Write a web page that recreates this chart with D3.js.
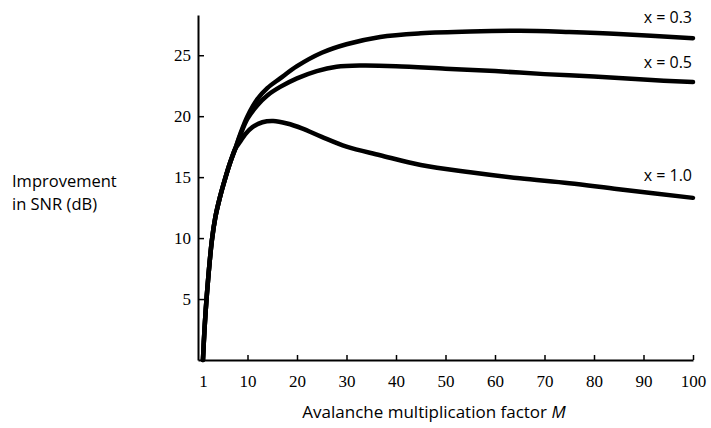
<!DOCTYPE html>
<html>
<head>
<meta charset="utf-8">
<script src="https://cdn.jsdelivr.net/npm/d3@7/dist/d3.min.js"></script>
<style>
  html, body { margin: 0; padding: 0; background: #fff; }
  svg { display: block; }
</style>
</head>
<body>
<svg id="chart" width="711" height="428"></svg>
<script>
// ---- Data ----
const xTickValues = [1, 10, 20, 30, 40, 50, 60, 70, 80, 90, 100];
const yTickValues = [5, 10, 15, 20, 25];

// Common rising part of all three curves (M, dB)
const sharedM  = [1, 1.3, 1.8, 2.8, 3.5, 4.4, 5.5, 6.5, 7.5];
const sharedDB = [0, 2.4, 5.4, 9.8, 11.7, 13.3, 14.9, 16.2, 17.3];

const x03M  = [8.5, 10, 12, 14, 16.6, 20, 25, 30, 36.8, 45, 55, 65, 75, 85, 100];
const x03DB = [18.5, 20.0, 21.4, 22.3, 23.1, 24.1, 25.2, 25.9, 26.5, 26.8, 26.95, 27.0, 26.9, 26.75, 26.4];

const x05M  = [8.5, 10, 12, 14, 16.6, 20, 24, 28, 33, 40, 50, 60, 70, 80, 90, 100];
const x05DB = [18.4, 19.8, 20.9, 21.7, 22.4, 23.1, 23.7, 24.05, 24.15, 24.1, 23.9, 23.7, 23.45, 23.25, 23.0, 22.8];

const x10M  = [8.5, 9.5, 11, 13, 15.2, 18, 21, 25, 30, 36.8, 45, 55, 65, 75, 85, 100];
const x10DB = [17.9, 18.5, 19.1, 19.5, 19.6, 19.4, 19.0, 18.3, 17.5, 16.8, 16.0, 15.4, 14.9, 14.5, 14.0, 13.3];

const seriesNames = ["x = 0.3", "x = 0.5", "x = 1.0"];

function build(m, db) {
  const pts = sharedM.map((v, i) => [v, sharedDB[i]]);
  return pts.concat(m.map((v, i) => [v, db[i]]));
}
const series = [
  { name: seriesNames[0], pts: build(x03M, x03DB) },
  { name: seriesNames[1], pts: build(x05M, x05DB) },
  { name: seriesNames[2], pts: build(x10M, x10DB) }
];

// ---- Layout ----
const svg = d3.select("#chart");
const x = d3.scaleLinear().domain([0, 100]).range([198, 693]);
const y = d3.scaleLinear().domain([0, 28.3]).range([360, 15]);

const tickFont = "'Liberation Serif', 'Times New Roman', serif";
const textFont = "'Open Sans', 'DejaVu Sans', sans-serif";

// X axis
const xAxis = svg.append("g")
  .attr("transform", `translate(0,${y(0)})`)
  .call(d3.axisBottom(x).tickValues(xTickValues).tickFormat(d3.format("d"))
        .tickSizeInner(-5).tickSizeOuter(0).tickPadding(15));
xAxis.select(".domain").attr("stroke", "#000").attr("stroke-width", 2);
xAxis.selectAll(".tick line").attr("stroke", "#000").attr("stroke-width", 1.5);
xAxis.selectAll(".tick text")
  .attr("font-family", tickFont).attr("font-size", 17).attr("fill", "#000");

// Y axis
const yAxis = svg.append("g")
  .attr("transform", `translate(${x(0)},0)`)
  .call(d3.axisLeft(y).tickValues(yTickValues).tickFormat(d3.format("d"))
        .tickSizeInner(-6).tickSizeOuter(0).tickPadding(7));
yAxis.select(".domain").attr("stroke", "#000").attr("stroke-width", 2);
yAxis.selectAll(".tick line").attr("stroke", "#000").attr("stroke-width", 1.5);
yAxis.selectAll(".tick text")
  .attr("font-family", tickFont).attr("font-size", 17).attr("fill", "#000");

// Curves
const line = d3.line()
  .x(d => x(d[0]))
  .y(d => y(d[1]))
  .curve(d3.curveCatmullRom.alpha(0.5));

svg.append("g").selectAll("path")
  .data(series)
  .join("path")
  .attr("d", d => line(d.pts))
  .attr("fill", "none")
  .attr("stroke", "#000")
  .attr("stroke-width", 4.5)
  .attr("stroke-linecap", "round")
  .attr("stroke-linejoin", "round");

// Curve labels (placed above the right end of each curve)
const labelOffsets = [-15, -14, -17];
svg.append("g").selectAll("text")
  .data(series)
  .join("text")
  .attr("x", 692)
  .attr("y", (d, i) => y(d.pts[d.pts.length - 1][1]) + labelOffsets[i])
  .attr("text-anchor", "end")
  .attr("font-family", textFont)
  .attr("font-size", 16)
  .attr("fill", "#000")
  .text(d => d.name);

// Y axis title (two lines)
const yTitle = svg.append("text")
  .attr("font-family", textFont)
  .attr("font-size", 16.5)
  .attr("fill", "#000");
yTitle.append("tspan").attr("x", 12).attr("y", 187).text("Improvement");
yTitle.append("tspan").attr("x", 12).attr("y", 210).text("in SNR (dB)");

// X axis title
const xTitle = svg.append("text")
  .attr("x", 434).attr("y", 418)
  .attr("text-anchor", "middle")
  .attr("font-family", textFont)
  .attr("font-size", 17)
  .attr("fill", "#000");
xTitle.append("tspan").text("Avalanche multiplication factor ");
xTitle.append("tspan").attr("font-style", "italic").text("M");
</script>
</body>
</html>
